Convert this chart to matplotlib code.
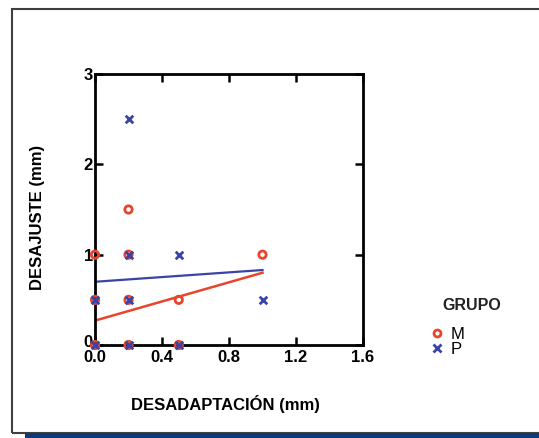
import matplotlib
matplotlib.use("Agg")
import matplotlib.pyplot as plt
import matplotlib.transforms as mtransforms
from matplotlib.patches import Rectangle
from matplotlib.lines import Line2D

plt.rcParams['font.family'] = ['Liberation Sans', 'DejaVu Sans']

# Data
m_x = [0.0, 0.2, 0.5, 1.0, 0.0, 0.2, 0.2, 0.0, 0.2, 0.5]
m_y = [1.0, 1.5, 0.5, 1.0, 0.5, 1.0, 0.5, 0.0, 0.0, 0.0]
p_x = [0.2, 0.2, 0.5, 0.0, 0.2, 1.0, 0.0, 0.2, 0.5]
p_y = [2.5, 1.0, 1.0, 0.5, 0.5, 0.5, 0.0, 0.0, 0.0]
fit_x = [0.0, 1.0]
m_fit = [0.27, 0.80]
p_fit = [0.70, 0.83]
x_ticks = [0.0, 0.4, 0.8, 1.2, 1.6]
x_tick_labels = ["0.0", "0.4", "0.8", "1.2", "1.6"]
y_ticks = [0, 1, 2, 3]
y_tick_labels = ["0", "1", "2", "3"]
groups = ["M", "P"]

red = "#e8452c"
blue = "#3a44a8"

W, H = 539, 438
fig = plt.figure(figsize=(W / 100, H / 100), dpi=100)

# Outer frame and bottom bar
fig.patches.append(Rectangle((12 / W, (H - 433) / H), (W + 10 - 12) / W, (433 - 9) / H,
                             transform=fig.transFigure, fill=False,
                             edgecolor="#404040", linewidth=1.5, zorder=0))
fig.patches.append(Rectangle((25 / W, 0), (W - 25) / W, 5.5 / H,
                             transform=fig.transFigure, facecolor="#0d3a78",
                             edgecolor="none", zorder=1))

ax = fig.add_axes([95 / W, (H - 345) / H, (363 - 95) / W, (345 - 74) / H])
ax.set_xlim(0, 1.6)
ax.set_ylim(0, 3)

ax.plot(fit_x, m_fit, color=red, lw=1.8, zorder=2)
ax.plot(fit_x, p_fit, color=blue, lw=1.6, zorder=2)

ax.scatter(m_x, m_y, s=28, facecolors="none", edgecolors=red, linewidths=2.0,
           zorder=3, clip_on=False)
ax.scatter(p_x, p_y, s=30, marker="x", color=blue, linewidths=2.0, zorder=4,
           clip_on=False)

for s in ax.spines.values():
    s.set_linewidth(2.0)
    s.set_color("black")

ax.set_xticks(x_ticks)
ax.set_xticklabels(x_tick_labels)
ax.set_yticks(y_ticks)
ax.set_yticklabels(y_tick_labels)
ax.tick_params(direction="in", length=6, width=1.8, top=True, right=True,
               labelsize=12, pad=1.5)
ax.tick_params(axis="x", pad=3.5)
for lab in ax.get_xticklabels() + ax.get_yticklabels():
    lab.set_fontweight("bold")
    lab.set_color("black")
# lift the "0" y label slightly so it sits above the "0.0" x label
zero_lab = ax.get_yticklabels()[0]
zero_lab.set_transform(zero_lab.get_transform() +
                       mtransforms.ScaledTranslation(0, 4 / 100, fig.dpi_scale_trans))

fig.text(38 / W, 1 - 217 / H, "DESAJUSTE (mm)", rotation=90, ha="center",
         va="center", fontsize=12, fontweight="bold")
fig.text(225 / W, 1 - 404 / H, "DESADAPTACIÓN (mm)", ha="center",
         va="center", fontsize=12, fontweight="bold")

# Legend
fig.text(472 / W, 1 - 305 / H, "GRUPO", ha="center", va="center",
         fontsize=11.5, fontweight="bold", color="#222222")
handles = [Line2D([], [], marker="o", linestyle="none", markerfacecolor="none",
                  markeredgecolor=red, markeredgewidth=2.0, markersize=5),
           Line2D([], [], marker="x", linestyle="none", color=blue,
                  markeredgewidth=2.0, markersize=5.5)]
fig.legend(handles, groups, loc="center left",
           bbox_to_anchor=(432 / W, 1 - 342 / H), frameon=False,
           fontsize=12, handlelength=0.6, handletextpad=0.5,
           labelspacing=0.0, borderpad=0, borderaxespad=0)

fig.savefig("out.png", dpi=100)
